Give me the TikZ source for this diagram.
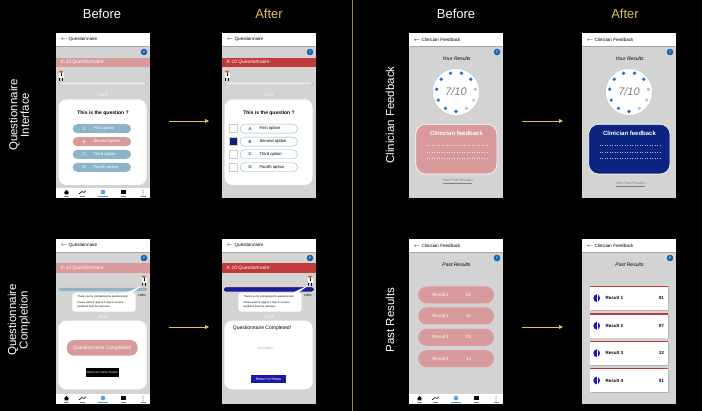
\documentclass[tikz,border=0pt]{standalone}
\usepackage{fontspec}
\setmainfont{Liberation Sans}
\usetikzlibrary{arrows.meta}
\definecolor{phgray}{HTML}{D3D3D3}
\definecolor{pinkc}{HTML}{D89A9A}
\definecolor{redc}{HTML}{C0393B}
\definecolor{bgray}{HTML}{8DB3C9}
\definecolor{navy}{HTML}{0B2480}
\definecolor{dblue}{HTML}{1A1AA8}
\definecolor{goldc}{HTML}{E5BE5A}
\definecolor{divc}{HTML}{A08650}
\definecolor{helpb}{HTML}{1565B0}
\definecolor{dotb}{HTML}{1E6FD0}
\newcommand{\fs}[1]{\fontsize{#1}{#1}\selectfont}
\newcommand{\phoneframe}[2]{%
  \fill[phgray] (0,0) rectangle (94,165);
  \fill[white] (0,0) rectangle (94,13);
  \draw[gray!70,line width=0.6pt] (0,13) -- (94,13);
  \node[anchor=west,font=\fs{4.6}] at (1,6.5) {$\leftarrow$ #1};
  \fill[helpb] (88,19) circle (3.3);
  \node[white,font=\fs{3.5}\bfseries] at (88,19) {?};
  \ifx#2y
  \fill[white] (0,155) rectangle (94,165);
  \fill[black] (8,159.5) -- (10.5,157) -- (13,159.5) -- (12.3,159.5) -- (12.3,161.5) -- (8.7,161.5) -- (8.7,159.5) -- cycle;
  \draw[black,line width=0.6pt] (23,161) -- (26,158.5) -- (28,159.5) -- (30,157.5);
  \fill[dotb!70] (47,159) circle (2.3);
  \fill[black] (65,157.3) rectangle (70,161);
  \fill[black] (87,157.2) circle (0.45) (87,159.2) circle (0.45) (87,161.2) circle (0.45);
  \foreach \xx in {10.5,26.5,47,67.5,87}{\fill[gray] (\xx-2.5,163.4) rectangle (\xx+2.5,163.9);}
  \fill[dotb!70] (42,163.4) rectangle (52,163.9);
  \fi}
\newcommand{\avatar}[2]{%
  \fill[white] (#1-2.5,#2+3) rectangle (#1+2.5,#2+8);
  \fill[black] (#1-0.4,#2+3) rectangle (#1+0.4,#2+6.5);
  \fill[black] (#1-2,#2+8) rectangle (#1-1,#2+11);
  \fill[black] (#1+1,#2+8) rectangle (#1+2,#2+11);
  \fill[orange!40] (#1,#2+1.3) circle (2);
  \fill[brown!80!black] (#1-2,#2+0.8) arc (180:0:2) -- cycle;}
\begin{document}
\begin{tikzpicture}[x=1pt,y=-1pt,
  hdr/.style={font=\fs{13}},
  rowlab/.style={white,font=\fs{11.5},rotate=90,align=center},
  flow/.style={goldc,line width=0.8pt,-{Triangle[length=4pt,width=4pt]}},
  tiny/.style={font=\fs{4.2}},
  optb/.style={rounded corners=4.5pt,fill=#1},
  ]
\fill[black] (0,0) rectangle (702,411);
\useasboundingbox (0,0) rectangle (702,411);
\draw[divc,line width=0.8pt] (352,0) -- (352,411);
\node[hdr,white] (hb1) at (102,14) {Before};
\node[hdr,goldc] (ha1) at (269,14) {After};
\node[hdr,white] (hb2) at (456,14) {Before};
\node[hdr,goldc] (ha2) at (625,14) {After};
\node[rowlab] (r1) at (19,115) {Questionnaire\\Interface};
\node[rowlab] (r2) at (19,320) {Questionnaire\\Completion};
\node[rowlab] (r3) at (390,115) {Clinician Feedback};
\node[rowlab] (r4) at (390,320) {Past Results};
\coordinate (a1s) at (169,121); \coordinate (a1e) at (209,121);
\coordinate (a2s) at (522,121); \coordinate (a2e) at (563,121);
\coordinate (a3s) at (169,327); \coordinate (a3e) at (209,327);
\coordinate (a4s) at (522,327); \coordinate (a4e) at (563,327);
\draw[flow] (a1s) -- (a1e);
\draw[flow] (a2s) -- (a2e);
\draw[flow] (a3s) -- (a3e);
\draw[flow] (a4s) -- (a4e);
% ---------- TL before
\begin{scope}[shift={(56,33)}]
\phoneframe{Questionnaire}{y}
\fill[pinkc] (0,25) rectangle (94,34);
\node[anchor=west,white,font=\fs{5}\itshape] at (1,29.5) {K-10 Questionnaire};
\avatar{5}{37}
\draw[gray!60,fill=phgray!60,rounded corners=1.5pt] (3,49) rectangle (91,52);
\node[tiny,white] at (47,62) {1/10};
\fill[white,rounded corners=8pt] (2.5,66.5) rectangle (90.5,152);
\node[font=\fs{5}\bfseries] at (47,80) {This is the question ?};
\foreach \yy/\l/\t/\c in {95.7/A./First option/bgray,108.7/B./Second option/pinkc,121.3/C./Third option/bgray,134.3/D./Fourth option/bgray}{
 \fill[\c,rounded corners=4.5pt] (16.7,\yy-4.5) rectangle (75,\yy+4.5);
 \node[tiny,white,anchor=west] at (23,\yy) {\l};
 \node[tiny,white,anchor=west] at (34,\yy) {\t};}
\end{scope}
% ---------- TL after
\begin{scope}[shift={(222,33)}]
\phoneframe{Questionnaire}{n}
\fill[redc] (0,25) rectangle (94,34);
\node[anchor=west,white,font=\fs{5}\itshape] at (1,29.5) {K-10 Questionnaire};
\avatar{5}{37}
\draw[gray!60,fill=phgray!60,rounded corners=1.5pt] (3,49) rectangle (91,52);
\node[tiny,white] at (47,62) {1/10};
\fill[white,rounded corners=8pt] (2.5,66.5) rectangle (90.5,152);
\node[font=\fs{5}\bfseries] at (47,80) {This is the question ?};
\foreach \yy/\l/\t/\c in {95.7/A./First option/white,108.7/B./Second option/navy,121.3/C./Third option/white,134.3/D./Fourth option/white}{
 \draw[gray!40,fill=\c] (7.5,\yy-4) rectangle (15.5,\yy+4);
 \draw[bgray,fill=white,rounded corners=4.5pt] (18,\yy-4.5) rectangle (75.5,\yy+4.5);
 \node[tiny,anchor=west] at (23,\yy) {\l};
 \node[tiny,anchor=west] at (34,\yy) {\t};}
\end{scope}
% ---------- TR before / after
\foreach \ox/\cc/\nv/\vy in {409/pinkc/y/148,582/navy/n/151}{
\begin{scope}[shift={(\ox,33)}]
\phoneframe{Clinician Feedback}{\nv}
\node[font=\fs{5}\itshape] at (47.5,26) {Your Results};
\draw[gray!50,fill=white] (47,59) circle (23.5);
\foreach \k in {0,...,10}{
  \pgfmathsetmacro\ang{90+\k*32.73}
  \ifnum\k<8 \fill[dotb] (47,59) ++(\ang:19.5) circle (1.8);
  \else \fill[gray!50] (47,59) ++(\ang:19.5) circle (1.8); \fi}
\node[gray,font=\fs{11}\itshape] at (47,59) {7/10};
\draw[white,line width=0.6pt,fill=\cc,rounded corners=10pt] (6.7,91.3) rectangle (88,141);
\node[white,font=\fs{6}\bfseries] at (47.5,100.3) {Clinician feedback};
\foreach \yy in {112.3,119,125.7}{\draw[white!70!\cc,dotted,line width=0.5pt] (17.7,\yy) -- (79,\yy);}
\node[gray,font=\fs{3.6}] (vp) at (49,\vy) {\underline{View Past Results}\,\textbullet};
\end{scope}}
% ---------- BL before
\begin{scope}[shift={(56,239)}]
\phoneframe{Questionnaire}{y}
\fill[pinkc] (0,24.3) rectangle (94,33.7);
\node[anchor=west,white,font=\fs{5}\itshape] at (1,29) {K-10 Questionnaire};
\avatar{88}{36}
\fill[bgray,rounded corners=1.5pt] (2.3,48.8) rectangle (91.3,52);
\node[font=\fs{3}] at (86,56.5) {100\%};
\fill[white,rounded corners=3pt] (16.3,53.7) rectangle (79.7,72.7);
\fill[white] (70,54) -- (87,46) -- (76,54) -- cycle;
\node[font=\fs{2.6},anchor=west] at (18,57.7) {Thank you for completing the questionnaire!};
\node[font=\fs{2.6},anchor=west] at (18,63.7) {Please wait for approx 2 days to receive};
\node[font=\fs{2.6},anchor=west] at (18,67.8) {feedback from the clinicians};
\node[tiny,white] at (47,78.3) {10/10};
\fill[white,rounded corners=8pt] (2.3,81.7) rectangle (90.7,150.3);
\fill[pinkc,rounded corners=7.5pt] (10.7,101) rectangle (81.7,116.7);
\node[white,font=\fs{5}] at (46.2,108.8) {Questionnaire Completed!};
\fill[black] (29.7,129.3) rectangle (63,137.7);
\node[white,font=\fs{3}] at (46.3,133.5) {Return to Home Screen};
\end{scope}
% ---------- BL after
\begin{scope}[shift={(222,239)}]
\phoneframe{Questionnaire}{n}
\fill[redc] (0,24.3) rectangle (94,33.7);
\node[anchor=west,white,font=\fs{5}\itshape] at (1,29) {K-10 Questionnaire};
\avatar{88}{36}
\draw[black,fill=dblue,rounded corners=1.5pt] (2.3,48.5) rectangle (91.3,52.3);
\node[font=\fs{3}] at (86,56.5) {100\%};
\fill[white,rounded corners=3pt] (16.3,53.7) rectangle (79.7,72.7);
\fill[white] (70,54) -- (87,46) -- (76,54) -- cycle;
\node[font=\fs{2.6},anchor=west] at (18,57.7) {Thank you for completing the questionnaire!};
\node[font=\fs{2.6},anchor=west] at (18,63.7) {Please wait for approx 2 days to receive};
\node[font=\fs{2.6},anchor=west] at (18,67.8) {feedback from the clinicians};
\node[tiny,white] at (47,78.3) {10/10};
\fill[white,rounded corners=8pt] (2.3,81.7) rectangle (90.7,150.3);
\node[font=\fs{5}] at (40,89.7) {Questionnaire Completed!};
\node[gray!70,font=\fs{3.2}\itshape] at (43.3,110) {Description};
\fill[dblue] (29.3,136) rectangle (63.7,144.3);
\node[white,font=\fs{3.6}] at (46.5,140.2) {Return to Home};
\end{scope}
% ---------- BR before
\begin{scope}[shift={(409,239)}]
\phoneframe{Clinician Feedback}{y}
\node[font=\fs{5}\itshape] at (47.5,26) {Past Results};
\foreach \yy/\n/\d in {56/1/01/09/20,77/2/11/04/20,98.3/3/03/02/20,119.7/4/14/02/20}{
 \fill[pinkc,rounded corners=8.5pt] (9.3,\yy-8.5) rectangle (85,\yy+8.5);
 \node[white,font=\fs{4.5}] at (31.5,\yy) {Result \n};
 \node[white,font=\fs{4.5}] at (59.5,\yy) {\d};}
\end{scope}
% ---------- BR after
\begin{scope}[shift={(582,239)}]
\phoneframe{Clinician Feedback}{n}
\node[font=\fs{5}\itshape] at (47.5,26) {Past Results};
\foreach \yt/\n/\d in {46.7/1/01/04/21,74.3/2/07/03/21,101.7/3/13/10/20,129/4/01/01/20}{
 \fill[gray!60] (8.6,\yt+0.6) rectangle (86.9,\yt+24.9);
 \fill[white] (8,\yt) rectangle (86.3,\yt+24.3);
 \fill[redc] (8,\yt) rectangle (86.3,\yt+1.3);
 \fill[dblue] (14.7,\yt+12.5) ellipse (3.3 and 3.8);
 \draw[white,line width=0.4pt] (14.7,\yt+9) -- (14.7,\yt+16);
 \node[font=\fs{4.5}\bfseries,anchor=west] at (20,\yt+12.5) {Result \n};
 \node[font=\fs{4.5}\bfseries,anchor=east] at (85.5,\yt+12.5) {\d};}
\end{scope}
\end{tikzpicture}
\end{document}
